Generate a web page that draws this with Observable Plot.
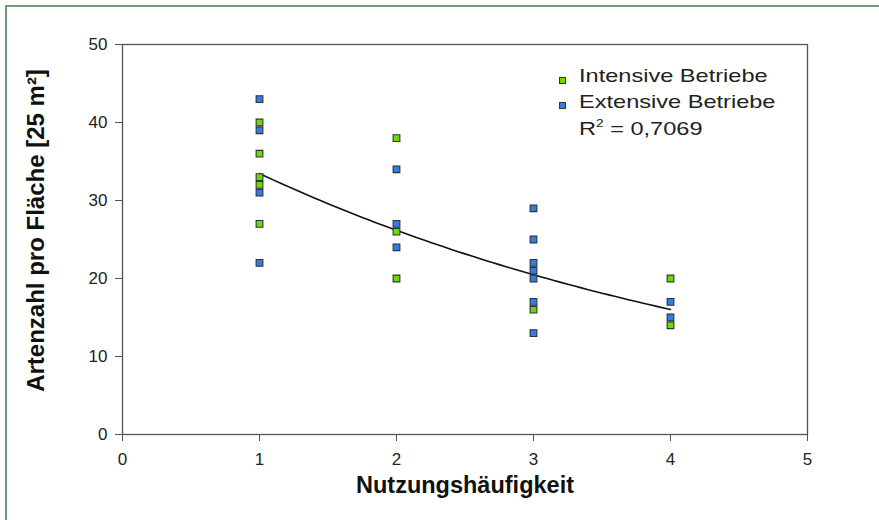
<!DOCTYPE html>
<html>
<head>
<meta charset="utf-8">
<script src="https://cdn.jsdelivr.net/npm/d3@7"></script>
<script src="https://cdn.jsdelivr.net/npm/@observablehq/plot@0.6"></script>
<style>
  html, body { margin: 0; padding: 0; background: #fff; }
  body { width: 879px; height: 520px; overflow: hidden; font-family: "Liberation Sans", Arial, sans-serif; }
  #wrap { position: relative; width: 879px; height: 520px; }
  #border { position: absolute; left: 5px; top: 5px; width: 874px; height: 515px;
            border-left: 2px solid #6e9c7b; border-top: 2px solid #6e9c7b; box-sizing: border-box; }
  .lg { position: absolute; font-size: 19px; line-height: 19px; color: #222; white-space: nowrap;
        transform: scaleX(1.24); transform-origin: 0 0; }
  .sw { position: absolute; width: 5px; height: 5px; border: 1px solid #333; }
  sup { font-size: 11px; vertical-align: 0; position: relative; top: -8px; }
  #chart { position: absolute; left: 0; top: 0; }
</style>
</head>
<body>
<div id="wrap">
  <div id="chart"></div>
  <div id="border"></div>
</div>
<script>
// ---- data ----
const intensiveX = [1, 1, 1, 1, 1, 2, 2, 2, 3, 4, 4];
const intensiveY = [40, 36, 33, 32, 27, 38, 26, 20, 16, 20, 14];
const extensiveX = [1, 1, 1, 1, 2, 2, 2, 3, 3, 3, 3, 3, 3, 3, 4, 4];
const extensiveY = [43, 39, 31, 22, 34, 27, 24, 29, 25, 22, 21, 20, 17, 13, 17, 15];
const seriesNames = ["Intensive Betriebe", "Extensive Betriebe"];
const seriesColors = ["#66dd00", "#2f7de8"];
const xTicks = [0, 1, 2, 3, 4, 5];
const yTicks = [0, 10, 20, 30, 40, 50];
const xTitle = "Nutzungshäufigkeit";
const yTitle = "Artenzahl pro Fläche [25 m²]";
const rSquaredText = "0,7069";

// ---- build table ----
const points = [
  ...intensiveX.map((x, i) => ({x, y: intensiveY[i], s: seriesNames[0]})),
  ...extensiveX.map((x, i) => ({x, y: extensiveY[i], s: seriesNames[1]}))
];

// exponential trend line (least squares on ln y), as in the spreadsheet chart
const mx = d3.mean(points, d => d.x);
const my = d3.mean(points, d => Math.log(d.y));
const sxy = d3.sum(points, d => (d.x - mx) * (Math.log(d.y) - my));
const sxx = d3.sum(points, d => (d.x - mx) ** 2);
const b = sxy / sxx;
const a = Math.exp(my - b * mx);
const xMin = d3.min(points, d => d.x), xMax = d3.max(points, d => d.x);
const trend = d3.range(0, 61).map(i => {
  const x = xMin + (xMax - xMin) * i / 60;
  return {x, y: a * Math.exp(b * x)};
});

const chart = Plot.plot({
  width: 879,
  height: 520,
  marginLeft: 122,
  marginRight: 72,
  marginTop: 44,
  marginBottom: 86,
  style: {fontFamily: "'Liberation Sans', Arial, sans-serif", color: "#222", background: "transparent"},
  x: {domain: [0, 5], ticks: xTicks},
  y: {domain: [0, 50], ticks: yTicks},
  color: {domain: seriesNames, range: seriesColors},
  marks: [
    Plot.frame({stroke: "#555", strokeWidth: 1.3}),
    Plot.axisX({ticks: xTicks, tickFormat: d => String(d), tickSize: 7, tickPadding: 11, fontSize: 17, label: null, stroke: "#555"}),
    Plot.axisY({ticks: yTicks, tickFormat: d => String(d), tickSize: 7, tickPadding: 8, fontSize: 17, label: null, stroke: "#555"}),
    Plot.line(trend, {x: "x", y: "y", stroke: "#111", strokeWidth: 1.6}),
    Plot.dot(points, {x: "x", y: "y", fill: "s", symbol: "square", r: 3.8, stroke: "#333", strokeWidth: 1.1}),
    Plot.text([xTitle], {frameAnchor: "bottom", dy: 58, fontSize: 23.5, fontWeight: "bold", fill: "#111"}),
    Plot.text([yTitle], {frameAnchor: "left", textAnchor: "middle", dx: -86, dy: -9, rotate: -90, fontSize: 24, fontWeight: "bold", fill: "#111"})
  ]
});
document.getElementById("chart").appendChild(chart);

// legend + R² as HTML text overlaid at the top right of the plot
const wrap = document.getElementById("wrap");
const rows = [
  {label: seriesNames[0], color: seriesColors[0], top: 66, sq: 77},
  {label: seriesNames[1], color: seriesColors[1], top: 92, sq: 102}
];
rows.forEach(r => {
  const sw = document.createElement("div");
  sw.className = "sw";
  sw.style.left = "559px";
  sw.style.top = r.sq + "px";
  sw.style.background = r.color;
  wrap.appendChild(sw);
  const t = document.createElement("div");
  t.className = "lg";
  t.style.left = "579px";
  t.style.top = r.top + "px";
  t.textContent = r.label;
  wrap.appendChild(t);
});
const r2 = document.createElement("div");
r2.className = "lg";
r2.style.left = "579px";
r2.style.top = "119px";
r2.innerHTML = "R<sup>2</sup> = " + rSquaredText;
wrap.appendChild(r2);
</script>
</body>
</html>
